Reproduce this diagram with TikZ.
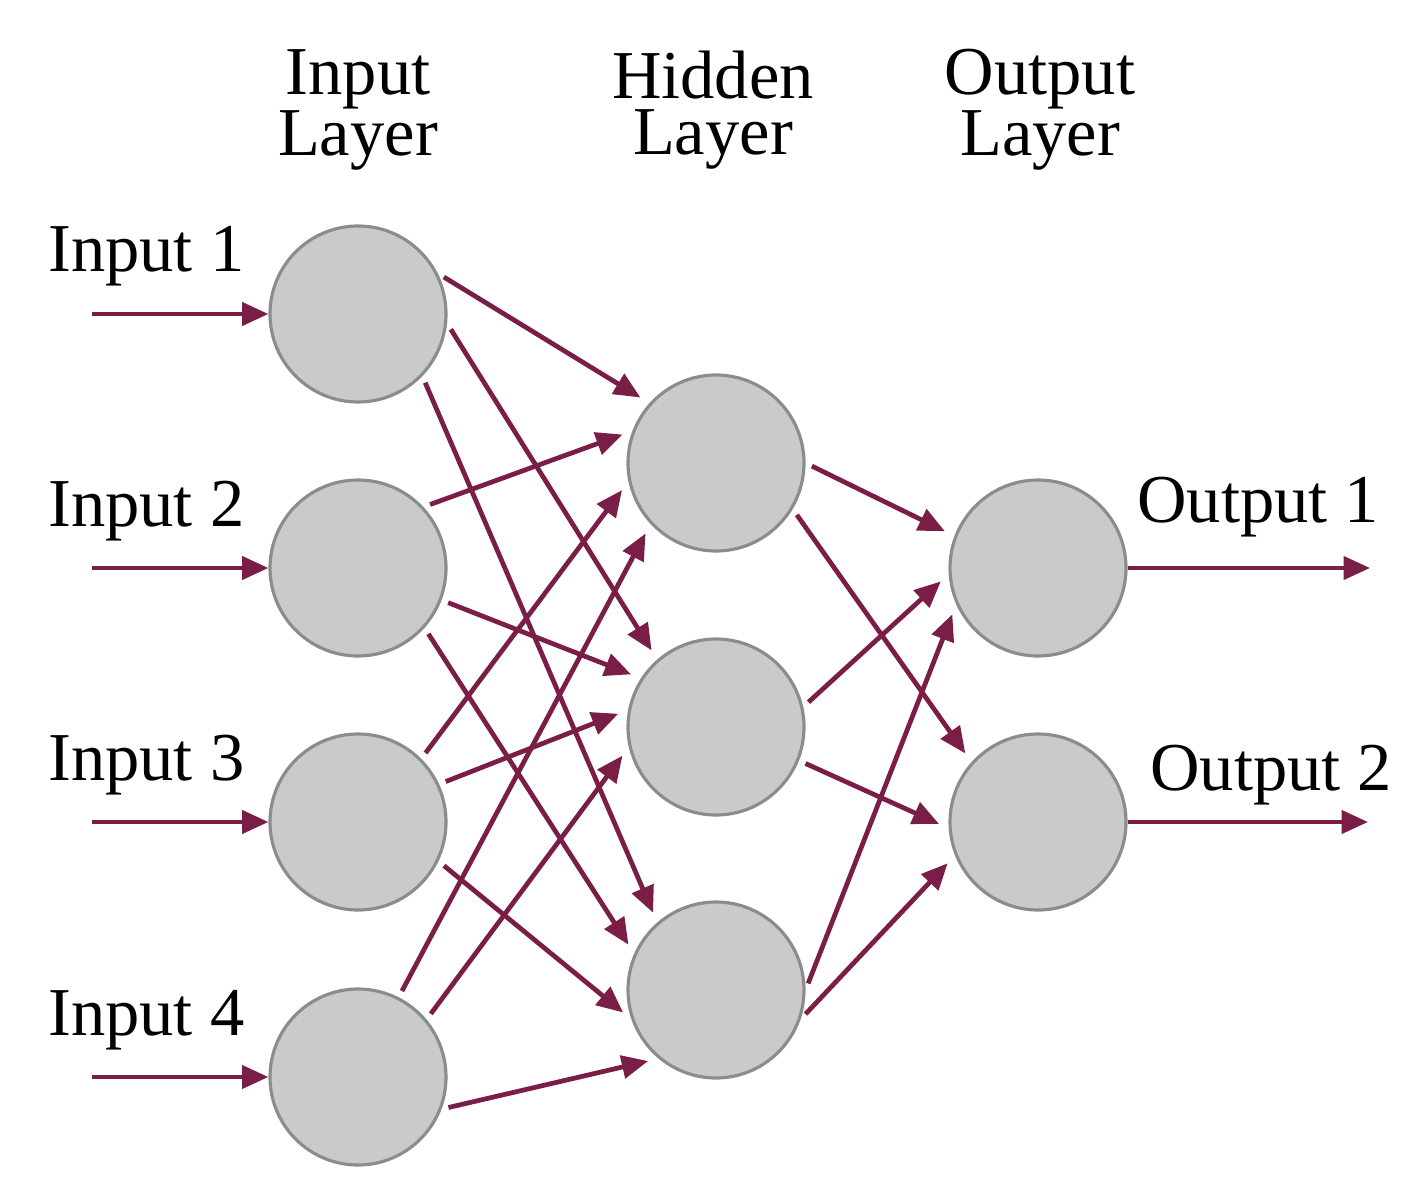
\documentclass[tikz,border=0pt]{standalone}
\usepackage{fontspec}
\setmainfont{Liberation Serif}
\usetikzlibrary{arrows.meta}
\definecolor{arr}{HTML}{7A1E48}
\definecolor{nfill}{HTML}{C8CACC}
\definecolor{nline}{HTML}{8C8C8C}
\begin{document}
\begin{tikzpicture}[x=0.02cm,y=-0.02cm,
  neuron/.style={circle,fill=nfill,draw=nline,line width=1.8pt,minimum size=176*0.02cm,inner sep=0pt},
  con/.style={draw=arr,line width=2.7pt,-{Triangle[length=15pt,width=13pt]},shorten >=6pt,shorten <=4pt},
  io/.style={draw=arr,line width=2.7pt,-{Triangle[length=15pt,width=13pt]}},
  lbl/.style={font=\fontsize{39}{31}\selectfont,inner sep=0pt},
  head/.style={font=\fontsize{39}{32}\selectfont,align=center,inner sep=0pt}]
\useasboundingbox (0,0) rectangle (1419,1192);
\node[head] (h1) at (358,110) {Input\\Layer};
\node[head] (h2) at (713,110) {Hidden\\Layer};
\node[head] (h3) at (1040,110) {Output\\Layer};
\foreach \i/\y in {1/314,2/568,3/822,4/1077}{
  \node[neuron] (I\i) at (358,\y) {};
  \coordinate (s\i) at (92,\y);
  \node[lbl,anchor=base west] (l\i) at (48,\y-42) {Input \i};
  \draw[io] (s\i) -- (I\i);
}
\node[neuron] (H1) at (716,463) {};
\node[neuron] (H2) at (716,727) {};
\node[neuron] (H3) at (716,990) {};
\node[neuron] (O1) at (1038,568) {};
\node[neuron] (O2) at (1038,822) {};
\node[lbl,anchor=base west] (lo1) at (1137,522) {Output 1};
\node[lbl,anchor=base west] (lo2) at (1150,790) {Output 2};
\coordinate (e1) at (1370,568);
\coordinate (e2) at (1368,822);
\draw[io] (O1) -- (e1);
\draw[io] (O2) -- (e2);
\foreach \a/\aa/\b/\bb in {
 I1/27/H1/138, I1/-6/H2/131, I1/-44/H3/131,
 I2/43/H1/159, I2/-21/H2/147, I2/-42/H3/156,
 I3/45/H1/192, I3/25/H2/169, I3/-26/H3/199,
 I4/63/H1/223, I4/40/H2/193, I4/-21/H3/230,
 H1/0/O1/159, H1/-31/O2/138, H2/13/O1/184, H2/-22/O2/184,
 H3/0/O1/204, H3/-19/O2/202}{
  \draw[con] (\a.\aa) -- (\b.\bb);
}
\end{tikzpicture}
\end{document}
